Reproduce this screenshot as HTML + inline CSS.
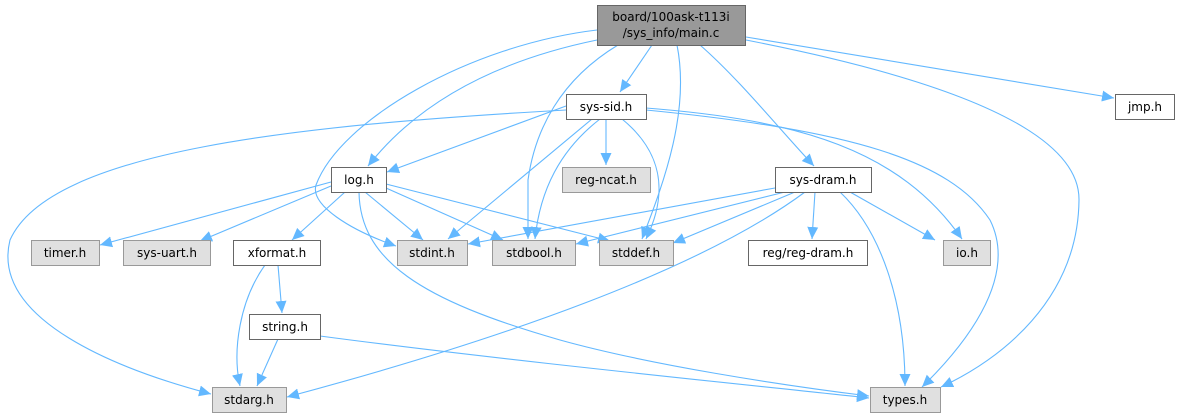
<!DOCTYPE html>
<html><head><meta charset="utf-8"><style>
html,body{margin:0;padding:0;background:#fff;width:1180px;height:417px;overflow:hidden}
text{font-family:"DejaVu Sans","Liberation Sans",sans-serif;font-size:12px;fill:#000}
</style></head><body>
<svg width="1180" height="417" viewBox="0 0 1180 417" xmlns="http://www.w3.org/2000/svg">
<defs>
<marker id="a" markerUnits="userSpaceOnUse" markerWidth="13" markerHeight="12" refX="12" refY="6" orient="auto">
<path d="M0,0.5 L12,6 L0,11.5 Z" fill="#63b8ff"/>
</marker>
</defs>
<g fill="none" stroke="#63b8ff" stroke-width="1.1" marker-end="url(#a)">
<path d="M652,45 L620,92"/>
<path d="M597,40 C500,60 420,100 368,166"/>
<path d="M597,30 C470,45 340,120 316,185 C310,205 350,230 396,246"/>
<path d="M618,45 C560,80 535,130 528,180 L528,239"/>
<path d="M677,45 C690,110 665,180 642,239"/>
<path d="M700,45 C740,80 780,130 814,166"/>
<path d="M746,37 L1114,98"/>
<path d="M746,40 C900,70 1080,120 1079,200 C1078,300 1000,360 941,387"/>
<path d="M566,106 L387,172"/>
<path d="M566,110 C300,125 50,150 10,240 C-10,320 120,370 211,394"/>
<path d="M592,119 L448,239"/>
<path d="M606,119 L606,165"/>
<path d="M600,119 C560,150 540,190 535,239"/>
<path d="M622,119 C660,150 670,190 646,239"/>
<path d="M646,108 C800,120 900,150 962,239"/>
<path d="M646,110 C850,130 950,160 990,220 C1020,280 960,350 922,387"/>
<path d="M331,182 L100,245"/>
<path d="M331,186 L200,241"/>
<path d="M345,192 L292,240"/>
<path d="M365,192 L423,240"/>
<path d="M386,188 L503,240"/>
<path d="M386,184 L610,241"/>
<path d="M359,192 C360,260 420,300 560,340 C650,365 780,385 869,396"/>
<path d="M775,188 L468,244"/>
<path d="M785,192 L576,244"/>
<path d="M795,192 L673,243"/>
<path d="M805,192 C700,270 500,340 287,397"/>
<path d="M815,192 L812,239"/>
<path d="M850,192 L935,240"/>
<path d="M840,192 C880,230 905,300 905,386"/>
<path d="M265,265 C240,300 232,350 240,386"/>
<path d="M278,265 L282,313"/>
<path d="M278,339 L257,386"/>
<path d="M320,336 C500,360 750,385 869,398"/>
</g>
<g stroke-width="1">
<rect x="597.5" y="5.5" width="148" height="40" fill="#999" stroke="#666"/>
<rect x="566.5" y="94.5" width="80" height="25" fill="#fff" stroke="#666"/>
<rect x="1115.5" y="94.5" width="59" height="25" fill="#fff" stroke="#666"/>
<rect x="331.5" y="167.5" width="55" height="25" fill="#fff" stroke="#666"/>
<rect x="562.5" y="167.5" width="88" height="25" fill="#e0e0e0" stroke="#999"/>
<rect x="775.5" y="167.5" width="96" height="25" fill="#fff" stroke="#666"/>
<rect x="31.5" y="240.5" width="68" height="25" fill="#e0e0e0" stroke="#999"/>
<rect x="123.5" y="240.5" width="87" height="25" fill="#e0e0e0" stroke="#999"/>
<rect x="233.5" y="240.5" width="87" height="25" fill="#fff" stroke="#666"/>
<rect x="397.5" y="240.5" width="70" height="25" fill="#e0e0e0" stroke="#999"/>
<rect x="492.5" y="240.5" width="83" height="25" fill="#e0e0e0" stroke="#999"/>
<rect x="599.5" y="240.5" width="74" height="25" fill="#e0e0e0" stroke="#999"/>
<rect x="748.5" y="240.5" width="119" height="25" fill="#fff" stroke="#666"/>
<rect x="943.5" y="240.5" width="47" height="25" fill="#e0e0e0" stroke="#999"/>
<rect x="249.5" y="314.5" width="71" height="25" fill="#fff" stroke="#666"/>
<rect x="212.5" y="387.5" width="74" height="25" fill="#e0e0e0" stroke="#999"/>
<rect x="870.5" y="387.5" width="70" height="25" fill="#e0e0e0" stroke="#999"/>
</g>
<g text-anchor="middle">
<text x="671" y="21">board/100ask-t113i</text>
<text x="671" y="37">/sys_info/main.c</text>
<text x="606" y="111">sys-sid.h</text>
<text x="1145" y="111">jmp.h</text>
<text x="359" y="184">log.h</text>
<text x="606" y="184">reg-ncat.h</text>
<text x="823" y="184">sys-dram.h</text>
<text x="65" y="257">timer.h</text>
<text x="167" y="257">sys-uart.h</text>
<text x="277" y="257">xformat.h</text>
<text x="432" y="257">stdint.h</text>
<text x="534" y="257">stdbool.h</text>
<text x="636" y="257">stddef.h</text>
<text x="808" y="257">reg/reg-dram.h</text>
<text x="967" y="257">io.h</text>
<text x="285" y="331">string.h</text>
<text x="249" y="404">stdarg.h</text>
<text x="905" y="404">types.h</text>
</g>
</svg>
</body></html>
